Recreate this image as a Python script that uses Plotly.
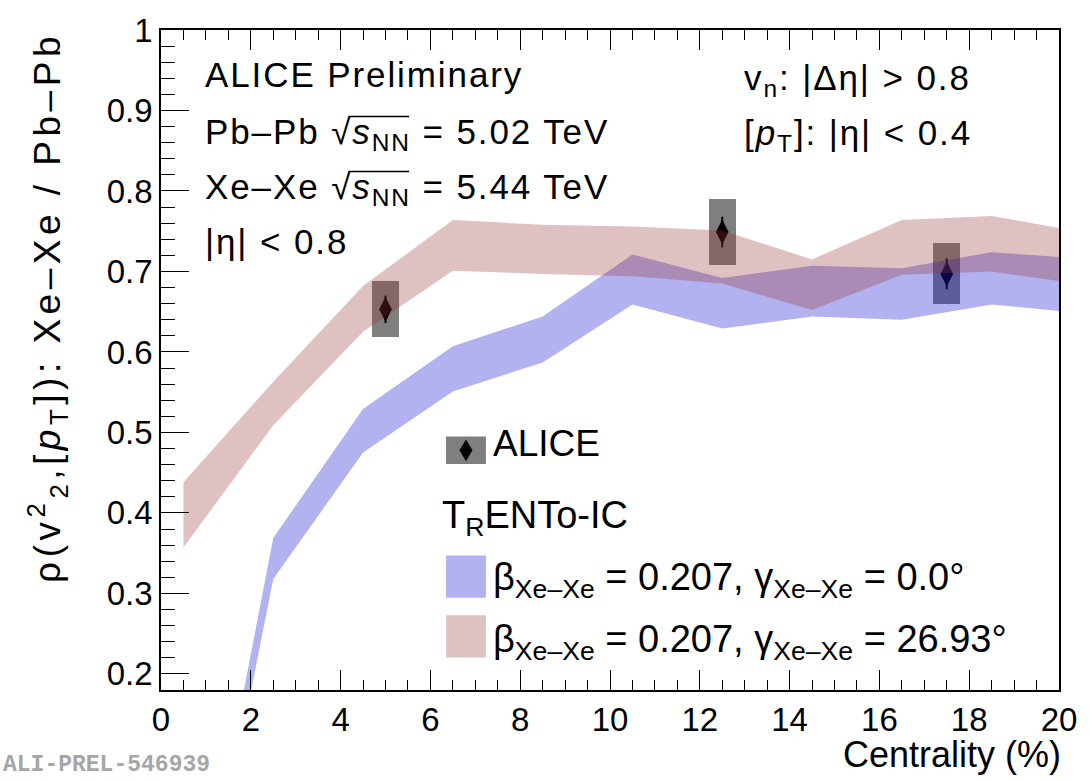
import plotly.graph_objects as go

# ---- data -------------------------------------------------------------
# TRENTo-IC model bands (centrality bin centres, upper/lower edges)
cent_model = [0.5, 2.5, 4.5, 6.5, 8.5, 10.5, 12.5, 14.5, 16.5, 18.5, 20.0]
gamma0_hi = [-0.21, 0.369, 0.529, 0.607, 0.644, 0.721, 0.692, 0.707, 0.704, 0.724, 0.718]
gamma0_lo = [-0.245, 0.318, 0.475, 0.551, 0.587, 0.659, 0.629, 0.644, 0.640, 0.659, 0.651]
gamma27_hi = [0.438, 0.563, 0.682, 0.764, 0.758, 0.756, 0.751, 0.715, 0.764, 0.769, 0.754]
gamma27_lo = [0.357, 0.509, 0.625, 0.701, 0.697, 0.694, 0.685, 0.652, 0.696, 0.700, 0.688]

# ALICE measurement
alice_cent = [5.0, 12.5, 17.5]
alice_rho = [0.653, 0.749, 0.697]
alice_stat = [0.017, 0.019, 0.019]
alice_syst = [0.035, 0.041, 0.038]

x_ticks = [0, 2, 4, 6, 8, 10, 12, 14, 16, 18, 20]
y_ticks = [0.2, 0.3, 0.4, 0.5, 0.6, 0.7, 0.8, 0.9, 1.0]
y_ticktext = ["0.2", "0.3", "0.4", "0.5", "0.6", "0.7", "0.8", "0.9", "1"]

# ---- layout geometry --------------------------------------------------
W, H = 1089, 780
ML, MR, MT, MB = 161, 27, 18, 90
PW, PH = W - ML - MR, H - MT - MB
FONT = "Liberation Sans, Arial, sans-serif"

BLUE = "rgba(20,20,210,0.33)"
PINK = "rgba(153,51,51,0.30)"
GREY = "rgba(0,0,0,0.5)"


def px(xp):
    return (xp - ML) / PW


def py(yp):
    return (H - MB - yp) / PH


def spaced(s, ls):
    return '<span style="letter-spacing:{}px">{}</span>'.format(ls, s)


fig = go.Figure()

# systematic boxes
fig.add_trace(go.Bar(
    x=alice_cent,
    y=[2 * s for s in alice_syst],
    base=[v - s for v, s in zip(alice_rho, alice_syst)],
    width=0.6,
    marker=dict(color=GREY, line=dict(width=0)),
    showlegend=False, hoverinfo="skip",
))

# data points with statistical errors
fig.add_trace(go.Scatter(
    x=alice_cent, y=alice_rho, mode="markers",
    marker=dict(symbol="diamond-tall", size=18, color="black"),
    error_y=dict(type="data", array=alice_stat, color="black", thickness=2, width=0),
    showlegend=False,
))


def band(xs, hi, lo, color):
    return go.Scatter(
        x=xs + xs[::-1], y=hi + lo[::-1],
        fill="toself", fillcolor=color, mode="lines",
        line=dict(width=0), showlegend=False, hoverinfo="skip",
    )


fig.add_trace(band(cent_model, gamma0_hi, gamma0_lo, BLUE))
fig.add_trace(band(cent_model, gamma27_hi, gamma27_lo, PINK))

annotations = []
shapes = []


def text(xp, yp, s, size=35, xanchor="left", yanchor="middle", color="black", family=FONT, **kw):
    annotations.append(dict(
        x=px(xp), y=py(yp), xref="paper", yref="paper", text=s,
        showarrow=False, xanchor=xanchor, yanchor=yanchor,
        font=dict(family=family, size=size, color=color), **kw,
    ))


def overline(x0, x1, yp):
    shapes.append(dict(type="line", xref="paper", yref="paper",
                       x0=px(x0), x1=px(x1), y0=py(yp), y1=py(yp),
                       line=dict(color="black", width=1.5)))


sNN = "\u221a<i>s</i><sub>NN</sub>"
LS = 1.9
text(203, 63, spaced("ALICE Preliminary", LS))
text(203, 124, spaced("Pb\u2013Pb " + sNN + " = 5.02 TeV", LS))
text(203, 180, spaced("Xe\u2013Xe " + sNN + " = 5.44 TeV", LS))
text(203, 233, spaced("|\u03b7| < 0.8", LS))
text(744, 69, spaced("v<sub>n</sub>: |\u0394\u03b7| > 0.8", LS))
text(744, 125, spaced("[<i>p</i><sub>T</sub>]: |\u03b7| < 0.4", LS))
overline(349, 410, 106)
overline(349, 410, 162)

# legend
text(492, 439, "ALICE", size=37)
text(441, 515, "T<sub>R</sub>ENTo-IC", size=38)
text(492, 578, "\u03b2<sub>Xe\u2013Xe</sub> = 0.207, \u03b3<sub>Xe\u2013Xe</sub> = 0.0\u00b0", size=38)
text(492, 641, "\u03b2<sub>Xe\u2013Xe</sub> = 0.207, \u03b3<sub>Xe\u2013Xe</sub> = 26.93\u00b0", size=38)

shapes.append(dict(type="rect", xref="paper", yref="paper",
                   x0=px(447), x1=px(487), y0=py(432), y1=py(460),
                   fillcolor=GREY, line=dict(width=0)))
shapes.append(dict(type="path", xref="paper", yref="paper",
                   path="M {a},{b} L {c},{d} L {a},{e} L {f},{d} Z".format(
                       a=px(467), b=py(435), c=px(473.5), d=py(446), e=py(457), f=px(460.5)),
                   fillcolor="black", line=dict(width=0)))
shapes.append(dict(type="rect", xref="paper", yref="paper",
                   x0=px(447), x1=px(487), y0=py(553), y1=py(596),
                   fillcolor=BLUE, line=dict(width=0)))
shapes.append(dict(type="rect", xref="paper", yref="paper",
                   x0=px(447), x1=px(487), y0=py(614), y1=py(657),
                   fillcolor=PINK, line=dict(width=0)))

# axis titles
text(1066, 756, "Centrality (%)", size=36, xanchor="right")
annotations.append(dict(
    x=px(47), y=py(18), xref="paper", yref="paper",
    text=spaced("\u03c1(v<sup>2</sup><sub>2</sub>,[<i>p</i><sub>T</sub>]): Xe\u2013Xe / Pb\u2013Pb", 4.5),
    textangle=-90, showarrow=False, xanchor="center", yanchor="top",
    font=dict(family=FONT, size=37, color="black"),
))

# preliminary figure tag
text(0, 766, "<b>ALI-PREL-546939</b>", size=23, color="#a6a6a6",
     family="Liberation Mono, DejaVu Sans Mono, monospace")

fig.update_layout(
    width=W, height=H,
    margin=dict(l=ML, r=MR, t=MT, b=MB),
    paper_bgcolor="white", plot_bgcolor="white",
    showlegend=False, bargap=0,
    font=dict(family=FONT, size=33, color="black"),
    annotations=annotations, shapes=shapes,
    xaxis=dict(
        range=[0, 20], tickvals=x_ticks, ticks="inside", ticklen=20, tickwidth=1,
        tickcolor="black", showline=True, linecolor="black", linewidth=1.5,
        mirror="ticks", showgrid=False, zeroline=False,
        tickfont=dict(size=33), ticklabeloverflow="allow",
        minor=dict(dtick=0.5, ticks="inside", ticklen=10, tickcolor="black", showgrid=False),
    ),
    yaxis=dict(
        range=[0.18, 1.0], tickvals=y_ticks, ticktext=y_ticktext, ticks="inside",
        ticklen=28, tickwidth=1, tickcolor="black", showline=True, linecolor="black",
        linewidth=1.5, mirror=True, showgrid=False, zeroline=False,
        tickfont=dict(size=33), ticklabeloverflow="allow",
        minor=dict(dtick=0.02, ticks="inside", ticklen=14, tickcolor="black", showgrid=False),
    ),
)

fig.write_html("out.html")
